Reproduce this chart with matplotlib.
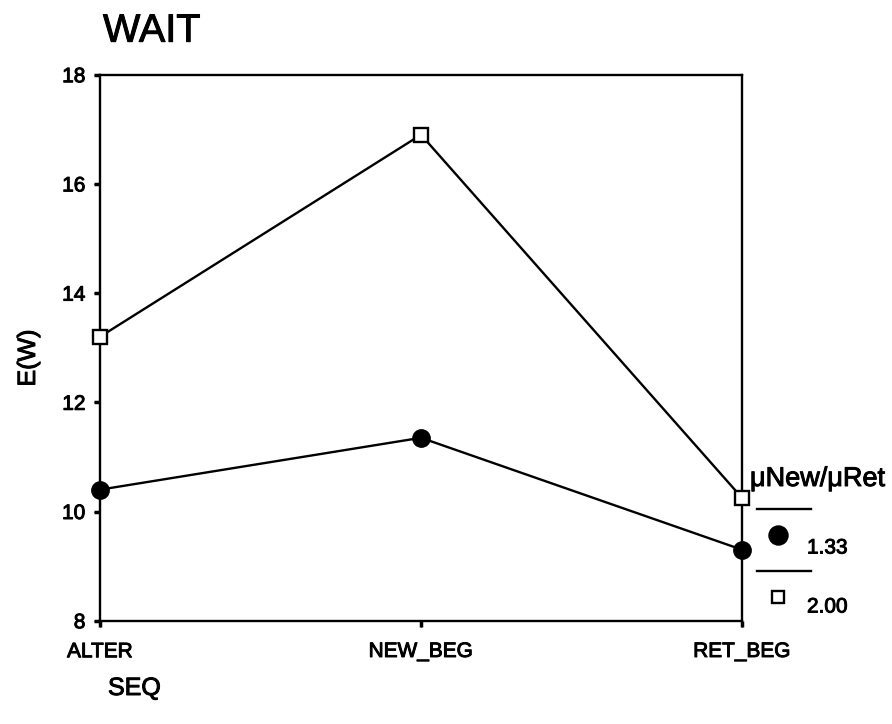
import matplotlib
matplotlib.use("Agg")
import matplotlib.pyplot as plt
import matplotlib.patheffects as pe
from matplotlib.lines import Line2D

plt.rcParams['font.family'] = ['Liberation Sans', 'DejaVu Sans']
# slightly heavier text strokes
plt.rcParams['path.effects'] = [pe.withStroke(linewidth=0.7, foreground='black')]

# mean wait per sequence, one series per service-rate ratio
seq = ['ALTER', 'NEW_BEG', 'RET_BEG']
wait_133 = [10.4, 11.35, 9.3]
wait_200 = [13.2, 16.9, 10.25]
ratio_labels = ['1.33', '2.00']
y_ticks = [8, 10, 12, 14, 16, 18]

W, H = 892, 724
fig = plt.figure(figsize=(W / 100, H / 100), dpi=100)
ax = fig.add_axes([100 / W, 1 - 620.7 / H, 642 / W, 546 / H])

xs = list(range(len(seq)))
ax.plot(xs, wait_133, color='black', lw=1.7, marker='o', ms=12.5,
        mfc='black', mec='black', clip_on=False, zorder=3, path_effects=[])
ax.plot(xs, wait_200, color='black', lw=1.7, marker='s', ms=9.5,
        mfc='white', mec='black', mew=1.7, clip_on=False, zorder=3,
        path_effects=[])

ax.set_xlim(0, 2)
ax.set_ylim(8, 18)
ax.set_xticks(xs)
ax.set_xticklabels(seq)
ax.set_yticks(y_ticks)
ax.tick_params(axis='both', direction='out', length=4.5, width=2.5,
               labelsize=15, color='black')
ax.tick_params(axis='y', pad=6)
ax.tick_params(axis='x', pad=11)
for s in ax.spines.values():
    s.set_linewidth(1.7)
    s.set_path_effects([])

fig.text(103 / W, 1 - 41.7 / H, 'WAIT', fontsize=28.5, ha='left', va='baseline')
fig.text(28 / W, 1 - 358 / H, 'E(W)', fontsize=18, rotation=90,
         ha='center', va='center')
fig.text(108 / W, 1 - 688 / H, 'SEQ', fontsize=18, ha='left', va='center')

# legend block to the right of the plot box
fig.text(750 / W, 1 - 479 / H, 'μNew/μRet', fontsize=19.5, ha='left', va='center')
legend_rows = [(509, 535, 548, 'o', 'black', 13),
               (571, 597, 607, 's', 'white', 8.5)]
for (ly, my, ty, mk, fc, ms), lab in zip(legend_rows, ratio_labels):
    fig.add_artist(Line2D([757 / W, 811 / W], [1 - ly / H, 1 - ly / H],
                          color='black', lw=1.7, transform=fig.transFigure,
                          path_effects=[]))
    fig.add_artist(Line2D([777.7 / W], [1 - my / H], marker=mk, ms=ms,
                          mfc=fc, mec='black', mew=1.7, ls='none',
                          transform=fig.transFigure, path_effects=[]))
    fig.text(807 / W, 1 - ty / H, lab, fontsize=15, ha='left', va='center')

fig.savefig('out.png', dpi=100)
